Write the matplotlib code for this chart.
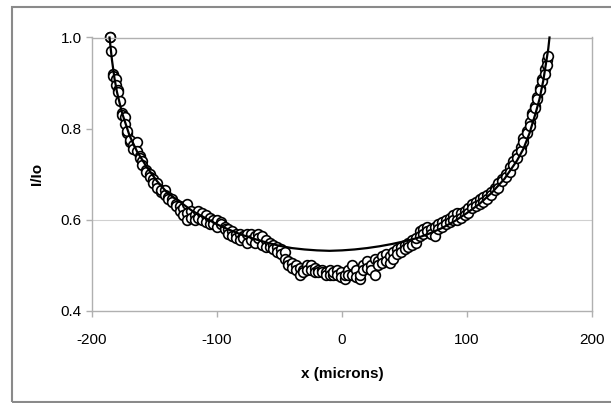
import matplotlib
matplotlib.use("Agg")
import matplotlib.pyplot as plt
from matplotlib.patches import Rectangle

plt.rcParams['font.family'] = ['Liberation Sans', 'DejaVu Sans']
plt.rcParams['axes.unicode_minus'] = False

# measured points (x in microns, I/Io)
x_data = [-186, -186, -185, -183, -183, -181, -181, -179, -179, -178,
          -176, -176, -174, -174, -172, -172, -170, -170, -167, -167,
          -164, -164, -162, -162, -160, -160, -157, -157, -154, -154,
          -151, -151, -148, -148, -145, -145, -142, -142, -139, -139,
          -136, -136, -133, -133, -130, -130, -127, -127, -124, -124, -124,
          -121, -121, -118, -118, -115, -115, -112, -112, -109, -109,
          -106, -106, -103, -103, -100, -100, -97, -97, -94, -94,
          -91, -91, -88, -88, -85, -85, -82, -82, -79, -79,
          -76, -76, -73, -73, -70, -70, -67, -67, -64, -64,
          -61, -61, -58, -58, -55, -55, -52, -52, -49, -49,
          -46, -46, -43, -43, -40, -40, -37, -37, -34, -34,
          -31, -31, -28, -28, -25, -25, -22, -22, -19, -19,
          -16, -16, -13, -13, -10, -10, -7, -7, -4, -4,
          -1, -1, 2, 2, 5, 5, 8, 8, 11, 11,
          14, 14, 17, 17, 20, 20, 23, 23, 26, 26,
          29, 29, 32, 32, 35, 35, 38, 38, 41, 41,
          44, 44, 47, 47, 50, 50, 53, 53, 56, 56,
          59, 59, 62, 62, 65, 65, 68, 68, 71, 71,
          74, 74, 77, 77, 80, 80, 83, 83, 86, 86,
          89, 89, 92, 92, 95, 95, 98, 98, 101, 101,
          104, 104, 107, 107, 110, 110, 113, 113, 116, 116,
          119, 119, 122, 122, 125, 125, 128, 128, 131, 131,
          134, 134, 137, 137, 140, 140, 143, 143, 145, 145,
          148, 148, 150, 150, 152, 152, 154, 154, 156, 156,
          158, 158, 160, 160, 162, 162, 164, 164, 165]
y_data = [1.0, 1.0, 0.97, 0.92, 0.915, 0.91, 0.895, 0.885, 0.88, 0.86,
          0.835, 0.83, 0.825, 0.81, 0.79, 0.795, 0.77, 0.775, 0.765, 0.755,
          0.77, 0.75, 0.74, 0.735, 0.73, 0.72, 0.71, 0.705, 0.70, 0.695,
          0.69, 0.68, 0.68, 0.67, 0.66, 0.665, 0.665, 0.655, 0.65, 0.645,
          0.645, 0.64, 0.635, 0.63, 0.63, 0.62, 0.625, 0.61, 0.635, 0.615, 0.60,
          0.62, 0.605, 0.61, 0.60, 0.62, 0.605, 0.615, 0.60, 0.61, 0.595,
          0.605, 0.59, 0.60, 0.59, 0.60, 0.585, 0.595, 0.59, 0.585, 0.58,
          0.58, 0.57, 0.575, 0.565, 0.57, 0.56, 0.57, 0.555, 0.565, 0.56,
          0.57, 0.55, 0.57, 0.555, 0.565, 0.55, 0.57, 0.56, 0.565, 0.545,
          0.555, 0.54, 0.55, 0.54, 0.545, 0.535, 0.54, 0.53, 0.535, 0.525,
          0.53, 0.515, 0.51, 0.50, 0.505, 0.495, 0.50, 0.49, 0.495, 0.48,
          0.49, 0.485, 0.50, 0.49, 0.50, 0.49, 0.495, 0.485, 0.49, 0.485,
          0.49, 0.485, 0.485, 0.48, 0.49, 0.48, 0.48, 0.485, 0.49, 0.48,
          0.485, 0.475, 0.47, 0.48, 0.49, 0.48, 0.50, 0.48, 0.49, 0.475,
          0.47, 0.48, 0.50, 0.49, 0.51, 0.495, 0.50, 0.49, 0.48, 0.515,
          0.51, 0.50, 0.52, 0.505, 0.525, 0.51, 0.52, 0.505, 0.53, 0.515,
          0.535, 0.525, 0.54, 0.53, 0.545, 0.535, 0.55, 0.54, 0.555, 0.545,
          0.55, 0.56, 0.575, 0.565, 0.58, 0.57, 0.585, 0.575, 0.58, 0.57,
          0.585, 0.565, 0.59, 0.58, 0.595, 0.585, 0.60, 0.59, 0.605, 0.595,
          0.61, 0.60, 0.615, 0.60, 0.615, 0.605, 0.62, 0.61, 0.625, 0.615,
          0.635, 0.625, 0.64, 0.63, 0.645, 0.635, 0.65, 0.64, 0.655, 0.645,
          0.66, 0.655, 0.67, 0.665, 0.68, 0.67, 0.69, 0.685, 0.70, 0.695,
          0.715, 0.705, 0.73, 0.72, 0.745, 0.735, 0.76, 0.75, 0.78, 0.77,
          0.795, 0.79, 0.815, 0.805, 0.835, 0.83, 0.85, 0.845, 0.87, 0.865,
          0.89, 0.885, 0.91, 0.905, 0.93, 0.92, 0.95, 0.94, 0.96]

# fitted curve
x_fit = [-186, -184, -182, -180, -176, -170, -164, -156, -148, -140,
         -130, -120, -110, -100, -90, -80, -70, -60, -50, -40,
         -30, -20, -10, 0, 10, 20, 30, 40, 50, 60,
         70, 80, 90, 100, 110, 120, 130, 140, 145, 150,
         155, 158, 161, 163, 165, 166]
y_fit = [1.0, 0.95, 0.91, 0.88, 0.835, 0.785, 0.75, 0.715, 0.685, 0.66,
         0.64, 0.62, 0.605, 0.59, 0.578, 0.567, 0.558, 0.55, 0.543, 0.538,
         0.535, 0.533, 0.532, 0.533, 0.535, 0.538, 0.542, 0.547, 0.553, 0.56,
         0.57, 0.582, 0.597, 0.615, 0.635, 0.66, 0.69, 0.73, 0.755, 0.79,
         0.835, 0.865, 0.905, 0.94, 0.975, 1.0]

x_ticks = [-200, -100, 0, 100, 200]
y_ticks = [0.4, 0.6, 0.8, 1.0]

fig = plt.figure(figsize=(6.11, 4.03), dpi=100)
fig.patches.append(Rectangle((12 / 611, 1 / 403), 0.99, 395 / 403,
                             transform=fig.transFigure, fill=False,
                             edgecolor='#8a8a8a', linewidth=1.5))

ax = fig.add_axes([92 / 611, 1 - 311 / 403, 500 / 611, 273.5 / 403])
ax.axhline(0.6, color='#d0d0d0', linewidth=0.8, zorder=0)
ax.plot(x_data, y_data, 'o', markersize=7, markerfacecolor='white',
        markeredgecolor='black', markeredgewidth=1.2, clip_on=False, zorder=2)
ax.plot(x_fit, y_fit, color='black', linewidth=1.6, clip_on=False, zorder=3)

ax.set_xlim(-200, 200)
ax.set_ylim(0.4, 1.0)
ax.set_xticks(x_ticks)
ax.set_yticks(y_ticks)
ax.set_yticklabels(['%.1f' % v for v in y_ticks])
for s in ax.spines.values():
    s.set_color('#b0b0b0')
    s.set_linewidth(1.0)
ax.tick_params(colors='#b0b0b0', labelcolor='black', labelsize=11,
               length=4, width=1.0)
ax.tick_params(axis='x', pad=12)
ax.set_xlabel('x (microns)', fontsize=11, fontweight='bold', labelpad=14)
ax.set_ylabel('I/Io', fontsize=11, fontweight='bold', labelpad=12)

fig.savefig('out.png', dpi=100)
